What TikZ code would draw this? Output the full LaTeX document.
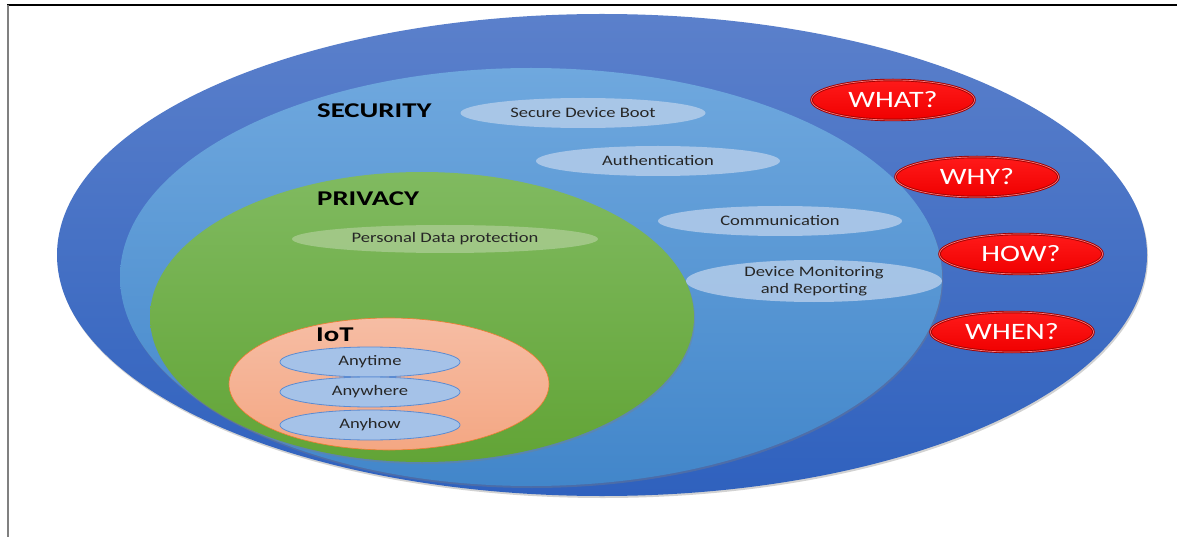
\documentclass[tikz,border=0pt]{standalone}
\usepackage{fontspec}
\setmainfont{Carlito}
\newfontfamily\widefont[FakeStretch=1.28]{Carlito}
\newfontfamily\headfont[FakeStretch=1.37]{Carlito}
\usetikzlibrary{shapes.geometric,shadows}

\definecolor{outerTop}{HTML}{5B80CB}
\definecolor{outerBot}{HTML}{2F61BE}
\definecolor{secTop}{HTML}{6FA8DE}
\definecolor{secBot}{HTML}{4286CA}
\definecolor{privTop}{HTML}{80BA60}
\definecolor{privBot}{HTML}{62A436}
\definecolor{iotTop}{HTML}{F6BDA4}
\definecolor{iotBot}{HTML}{F4A783}
\definecolor{iotEdge}{HTML}{ED7D31}
\definecolor{tagFill}{HTML}{B3CCEA}
\definecolor{greenTag}{HTML}{A7CB8E}
\definecolor{anyFill}{HTML}{A5C2E8}
\definecolor{anyEdge}{HTML}{5B8BD2}
\definecolor{askTop}{HTML}{FF1A1A}
\definecolor{askBot}{HTML}{F00000}
\definecolor{askEdge}{HTML}{A00000}
\definecolor{askRing}{HTML}{FF7A7A}
\definecolor{labelText}{HTML}{262626}

\tikzset{
  layer/.style={ellipse, inner sep=0pt, draw=none,
    drop shadow={opacity=0.35, shadow xshift=1pt, shadow yshift=-2pt}},
  tag/.style={ellipse, inner sep=0pt, fill=tagFill, fill opacity=0.85,
    text opacity=1, text=labelText, align=center,
    font=\widefont\fontsize{14.5}{17}\selectfont},
  anytag/.style={ellipse, inner sep=0pt, minimum width=180pt, minimum height=30pt,
    fill=anyFill, draw=anyEdge, line width=0.8pt, text=labelText,
    font=\widefont\fontsize{14.5}{17}\selectfont},
  ask/.style={ellipse, inner sep=0pt, minimum width=163pt, minimum height=40pt,
    top color=askTop, bottom color=askBot, draw=askEdge, line width=0.9pt,
    double=askRing, double distance=0.7pt,
    text=white, font=\widefont\fontsize{23.5}{26}\selectfont},
  heading/.style={anchor=west, inner sep=0pt, text=black,
    font=\headfont\bfseries\fontsize{21}{24}\selectfont},
}

\begin{document}
\begin{tikzpicture}[x=1pt,y=-1pt]
  \useasboundingbox (0,0) rectangle (1177,537);
  \fill[white] (0,0) rectangle (1177,537);

  % page frame
  \draw[black, line width=1.5pt] (7,5) -- (1177,5);
  \draw[gray, line width=2.5pt] (8,5) -- (8,537);

  % nested layers
  \node[layer, minimum width=1090pt, minimum height=482pt,
        top color=outerTop, bottom color=outerBot] (outer) at (602,255) {};
  \node[layer, minimum width=822pt, minimum height=418pt,
        top color=secTop, bottom color=secBot] (security) at (531,277) {};
  \node[layer, minimum width=544pt, minimum height=290pt,
        top color=privTop, bottom color=privBot] (privacy) at (422,317) {};
  \node[ellipse, inner sep=0pt, minimum width=320pt, minimum height=132pt,
        top color=iotTop, bottom color=iotBot, draw=iotEdge, line width=0.6pt] (iot) at (389,384) {};

  % headings
  \node[heading] (secLabel) at (317,111) {SECURITY};
  \node[heading] (privLabel) at (317,199) {PRIVACY};
  \node[heading] (iotLabel) at (316,335) {IoT};

  % security topics
  \node[tag, minimum width=245pt, minimum height=30pt] (boot) at (583,113) {Secure Device Boot};
  \node[tag, minimum width=244pt, minimum height=30pt] (auth) at (658,161) {Authentication};
  \node[tag, minimum width=244pt, minimum height=30pt] (comm) at (780,221) {Communication};
  \node[tag, minimum width=256pt, minimum height=42pt] (monitor) at (814,281)
       {Device Monitoring\\and Reporting};

  % privacy topic
  \node[tag, fill=greenTag, minimum width=306pt, minimum height=28pt] (personal) at (445,239)
       {Personal Data protection};

  % IoT attributes
  \node[anytag] (anytime) at (370,362) {Anytime};
  \node[anytag] (anywhere) at (370,392) {Anywhere};
  \node[anytag] (anyhow) at (370,425) {Anyhow};

  % questions
  \node[ask] (what) at (893,100) {WHAT?};
  \node[ask] (why) at (977,177) {WHY?};
  \node[ask] (how) at (1021,254) {HOW?};
  \node[ask] (when) at (1012,332) {WHEN?};
\end{tikzpicture}
\end{document}
